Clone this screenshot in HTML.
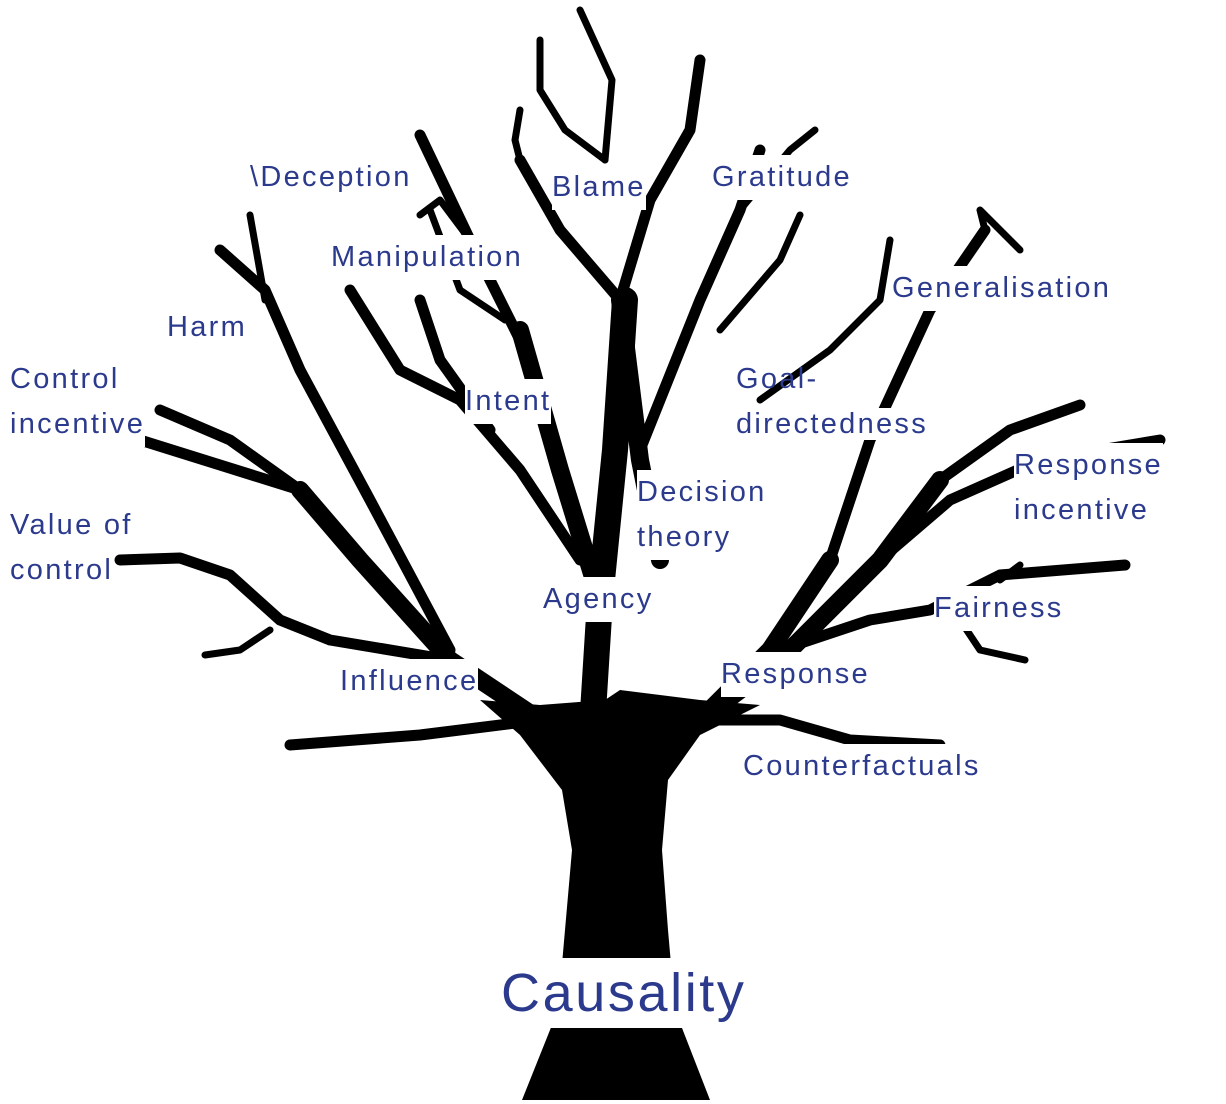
<!DOCTYPE html>
<html><head><meta charset="utf-8"><style>
html,body{margin:0;padding:0;background:#fff;}
body{width:1226px;height:1104px;position:relative;overflow:hidden;font-family:"Liberation Sans",sans-serif;}
svg{position:absolute;left:0;top:0;}
.l{position:absolute;color:#2b3a8c;font-size:29px;line-height:45px;background:#fff;white-space:nowrap;letter-spacing:2.3px;}
</style></head><body>
<svg width="1226" height="1104" viewBox="0 0 1226 1104">
<path d="M522 1100 L710 1100 L675 1010 L668 930 L662 850 L668 780 L700 735 L760 705 L700 700 L620 690 L605 700 L540 705 L480 700 L520 735 L562 790 L572 850 L565 930 L558 1010 Z" fill="#000"/>
<g fill="none" stroke="#000" stroke-linecap="round" stroke-linejoin="round">
<g stroke-width="26"><path d="M590 760 L600 600 L615 450 L625 300"/></g>
<g stroke-width="18">
<path d="M540 720 L450 660 L360 560 L300 490"/>
<path d="M700 720 L770 650 L830 560"/>
<path d="M600 600 L560 470 L520 330"/>
<path d="M620 300 L640 460 L660 560"/>
<path d="M700 720 L780 660 L880 560 L940 480"/>
</g>
<g stroke-width="11">
<path d="M300 490 L230 440 L160 410"/>
<path d="M300 490 L220 465 L140 440"/>
<path d="M450 660 L330 640 L280 620 L230 575 L180 558 L120 560"/>
<path d="M450 650 L370 500 L300 370 L265 290 L220 250"/>
<path d="M580 560 L520 470 L460 400 L400 370 L350 290"/>
<path d="M520 340 L470 240 L420 135"/>
<path d="M620 300 L560 230 L520 160"/>
<path d="M620 300 L650 200 L690 130 L700 60"/>
<path d="M640 450 L700 300 L740 210 L760 150"/>
<path d="M830 560 L870 440 L930 310 L985 230"/>
<path d="M940 480 L1010 430 L1080 405"/>
<path d="M880 560 L950 500 L1040 460 L1160 440"/>
<path d="M780 650 L870 620 L930 610 L1000 575 L1125 565"/>
<path d="M540 720 L420 735 L290 745"/>
<path d="M700 720 L780 720 L850 740 L940 745"/>
<path d="M490 430 L440 360 L420 300"/>
</g>
<g stroke-width="7">
<path d="M265 300 L250 215"/>
<path d="M270 630 L240 650 L205 655"/>
<path d="M470 240 L440 200 L420 215"/>
<path d="M505 320 L460 290 L430 210"/>
<path d="M520 160 L515 140 L520 110"/>
<path d="M605 160 L565 130 L540 90 L540 40"/>
<path d="M605 160 L612 80 L580 10"/>
<path d="M740 210 L790 150 L815 130"/>
<path d="M720 330 L780 260 L800 215"/>
<path d="M760 400 L830 350 L880 300 L890 240"/>
<path d="M985 230 L980 210 L1020 250"/>
<path d="M960 620 L980 650 L1025 660"/>
<path d="M1000 580 L1020 565"/>
</g>
</g>
</svg>
<div class="l" style="left:250px;top:155px">\Deception</div>
<div class="l" style="left:552px;top:165px">Blame</div>
<div class="l" style="left:712px;top:155px">Gratitude</div>
<div class="l" style="left:331px;top:235px">Manipulation</div>
<div class="l" style="left:892px;top:266px">Generalisation</div>
<div class="l" style="left:167px;top:305px">Harm</div>
<div class="l" style="left:10px;top:357px">Control<br>incentive</div>
<div class="l" style="left:465px;top:379px">Intent</div>
<div class="l" style="left:736px;top:357px;background:transparent">Goal-<br><span style="background:#fff">directedness</span></div>
<div class="l" style="left:1014px;top:443px">Response<br>incentive</div>
<div class="l" style="left:637px;top:470px">Decision<br>theory</div>
<div class="l" style="left:10px;top:503px;background:transparent">Value of<br><span style="background:#fff">control</span></div>
<div class="l" style="left:543px;top:577px">Agency</div>
<div class="l" style="left:934px;top:586px">Fairness</div>
<div class="l" style="left:721px;top:652px">Response</div>
<div class="l" style="left:340px;top:659px">Influence</div>
<div class="l" style="left:743px;top:744px">Counterfactuals</div>
<div class="l" style="left:501px;top:958px;font-size:54px;line-height:70px;letter-spacing:2.6px;padding-right:4px">Causality</div>
</body></html>
